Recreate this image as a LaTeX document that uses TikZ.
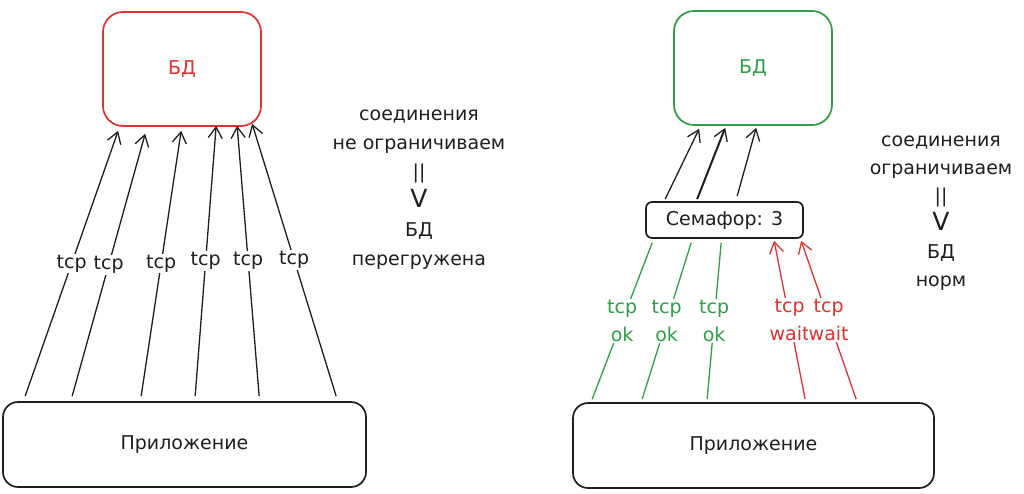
\documentclass[tikz,border=0pt]{standalone}
\usepackage{fontspec}
\setmainfont{DejaVu Sans}
\usetikzlibrary{arrows.meta}

\definecolor{dbred}{HTML}{E03131}
\definecolor{dbgreen}{HTML}{2F9E44}
\definecolor{ink}{HTML}{1E1E1E}

\tikzset{
  box/.style={draw=ink, line width=1.7pt, rounded corners=#1, inner sep=0pt},
  link/.style={draw=ink, line width=1.3pt, -{Straight Barb[length=11pt,width=14pt,line width=1.3pt]}},
  lbl/.style={fill=white, inner sep=1pt, align=center},
}

\begin{document}
\begin{tikzpicture}[x=1pt, y=-1pt, every node/.style={font=\fontsize{19}{28}\selectfont, text=ink}]
\useasboundingbox (0,0) rectangle (1024,493);

% without a limit
\node[box=20pt, draw=dbred, text=dbred, minimum width=158pt, minimum height=114pt] (db1) at (182,69) {БД};
\node[box=15pt, minimum width=363pt, minimum height=85pt] (app1) at (184.5,444.5) {Приложение};
\foreach \a/\b/\c in {23/16/-4, 70/43/-7, 139/79/-4, 193/114/1, 257/135/1, 334/150/3}
  \draw[link] ([xshift=\a pt, yshift=5pt]app1.north west) -- node[lbl] {tcp} ([xshift=\b pt, yshift=\c pt]db1.south west);
\node[align=center, font=\fontsize{19}{29}\selectfont] (note1) at (419,190)
  {соединения\\не ограничиваем\\||\\{\fontsize{25}{29}\selectfont V}\\БД\\перегружена};

% with a semaphore
\node[box=20pt, draw=dbgreen, text=dbgreen, minimum width=158pt, minimum height=114pt] (db2) at (753,68) {БД};
\node[box=6pt, minimum width=157pt, minimum height=36pt] (sem) at (724.5,220) {Семафор: 3};
\node[box=15pt, minimum width=361pt, minimum height=85pt] (app2) at (753.5,445.5) {Приложение};

\draw[link] ([xshift=20pt, yshift=2pt]sem.north west) -- ([xshift=26pt, yshift=-3pt]db2.south west);
\draw[link, line width=2pt] ([xshift=52pt, yshift=2pt]sem.north west) -- ([xshift=52pt, yshift=-2pt]db2.south west);
\draw[link] ([xshift=92pt, yshift=5pt]sem.north west) -- ([xshift=83pt, yshift=-2pt]db2.south west);

\foreach \a/\b in {20/7, 70/46, 135/76}
  \draw[dbgreen, line width=1.3pt] ([xshift=\a pt, yshift=3pt]app2.north west) -- node[lbl, text=dbgreen] {tcp\\ok} ([xshift=\b pt, yshift=-4pt]sem.south west);
\foreach \a/\b in {233/129, 284/156}
  \draw[link, draw=dbred] ([xshift=\a pt, yshift=3pt]app2.north west) -- node[lbl, text=dbred] {tcp\\wait} ([xshift=\b pt, yshift=-2pt]sem.south west);

\node[align=center] (note2) at (941,213)
  {соединения\\ограничиваем\\||\\{\fontsize{25}{29}\selectfont V}\\БД\\норм};
\end{tikzpicture}
\end{document}
